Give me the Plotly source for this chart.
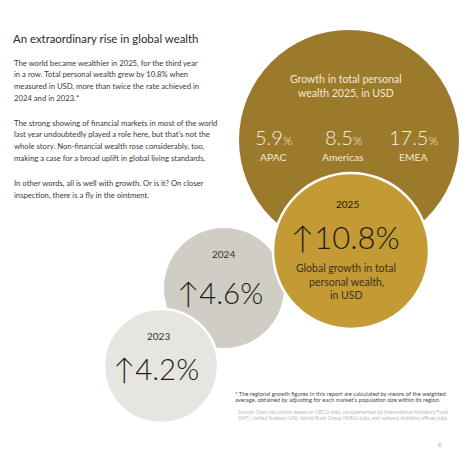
import plotly.graph_objects as go

# ---- data ----
years = ["2023", "2024", "2025"]
global_growth = [4.2, 4.6, 10.8]
regions = ["APAC", "Americas", "EMEA"]
region_growth = [5.9, 8.5, 17.5]

title = "An extraordinary rise in global wealth"
paragraphs = [
    ["The world became wealthier in 2025, for the third year",
     "in a row. Total personal wealth grew by 10.8% when",
     "measured in USD, more than twice the rate achieved in",
     "2024 and in 2023.*"],
    ["The strong showing of financial markets in most of the world",
     "last year undoubtedly played a role here, but that\u2019s not the",
     "whole story. Non-financial wealth rose considerably, too,",
     "making a case for a broad uplift in global living standards."],
    ["In other words, all is well with growth. Or is it? On closer",
     "inspection, there is a fly in the ointment."],
]
footnote = ["* The regional growth figures in this report are calculated by means of the weighted",
            "average, obtained by adjusting for each market\u2019s population size within its region."]
source = ["Source: Own calculation based on OECD data, complemented by International Monetary Fund",
          "(IMF), United Nations (UN), World Bank Group (WBG) data, and national statistics offices data."]
circle_caption_2025 = ["Global growth in total", "personal wealth,", "in USD"]
big_caption = ["Growth in total personal", "wealth 2025, in USD"]
page_no = "8"

# ---- layout / style (page pixel coordinates) ----
W, H = 470, 457
OFF = 8  # browser body margin
FONT = "Lato"
big = dict(cx=349, cy=140, r=110, color="#9C7A2C")
circ = {
    "2025": dict(cx=351, cy=251, r=78, color="#C39A33"),
    "2024": dict(cx=224, cy=288, r=60, color="#CFCDC4"),
    "2023": dict(cx=161, cy=366, r=57, color="#E7E5DF"),
}

fig = go.Figure()
fig.add_trace(go.Scatter(x=[OFF, W], y=[OFF, H], mode="markers",
                         marker=dict(opacity=0), hoverinfo="skip", showlegend=False))

shapes = []

def circle(c, border=None):
    d = dict(type="circle", xref="x", yref="y",
             x0=c["cx"] - c["r"], x1=c["cx"] + c["r"],
             y0=c["cy"] - c["r"], y1=c["cy"] + c["r"],
             fillcolor=c["color"], layer="below")
    d["line"] = dict(color="white", width=border) if border else dict(width=0)
    return d

shapes.append(circle(big))
shapes.append(circle(circ["2024"]))
shapes.append(circle(circ["2025"], border=2.5))
shapes.append(circle(circ["2023"], border=2.5))

ann = []

def txt(x, y, s, size, color, anchor="center", weight=400, family=FONT):
    ann.append(dict(x=x, y=y, xref="x", yref="y", text=s, showarrow=False,
                    xanchor=anchor, yanchor="middle",
                    font=dict(family=family, size=size, color=color, weight=weight)))

def lines(x, y0, step, items, size, color, anchor="center", weight=400):
    for i, s in enumerate(items):
        txt(x, y0 + i * step, s, size, color, anchor, weight)

# title & body text
txt(11, 38, title, 11.4, "#2b2b2b", anchor="left")
for para, y0 in zip(paragraphs, [62.7, 122.7, 183.3]):
    lines(12, y0, 11.7, para, 7.7, "#3a3a3a", anchor="left")

# big circle: regional growth
lines(big["cx"] - 3, 79, 14, big_caption, 10.5, "#F3E9D2")
reg_x = [273, 343, 413]
for x, name, v in zip(reg_x, regions, region_growth):
    txt(x, 137, f"{v}<span style='font-size:12px'>%</span>", 20, "#F6EEDC", weight=300)
    txt(x, 157, name, 10.3, "#F3E9D2")

# year circles
arrow = "\u2191"
for yr, v in zip(years, global_growth):
    c = circ[yr]
    if yr == "2025":
        txt(347, 204, yr, 10, "#1f1a10")
        txt(345, 237, f"{arrow}{v}%", 31, "#1e1c18", weight=300)
        lines(346, 268, 13.5, circle_caption_2025, 10.5, "#3b3222")
    else:
        pos = {"2024": (223, 254, 220, 292), "2023": (158, 336, 156, 368)}[yr]
        txt(pos[0], pos[1], yr, 10, "#333333")
        txt(pos[2], pos[3], f"{arrow}{v}%", 29.5, "#1e1e1e", weight=300)

# footnotes
lines(233, 393, 6.5, footnote, 5.8, "#4a4a4a", anchor="left")
lines(236, 412, 6, source, 5.1, "#b8b8b8", anchor="left")
txt(440, 444, page_no, 6, "#b0b0b0")

fig.update_layout(
    width=W - OFF, height=H - OFF, autosize=False,
    margin=dict(l=0, r=0, t=0, b=0),
    paper_bgcolor="white", plot_bgcolor="white",
    xaxis=dict(range=[OFF, W], visible=False, fixedrange=True),
    yaxis=dict(range=[H, OFF], visible=False, fixedrange=True),
    shapes=shapes, annotations=ann, showlegend=False,
)
fig.write_html("out.html")
